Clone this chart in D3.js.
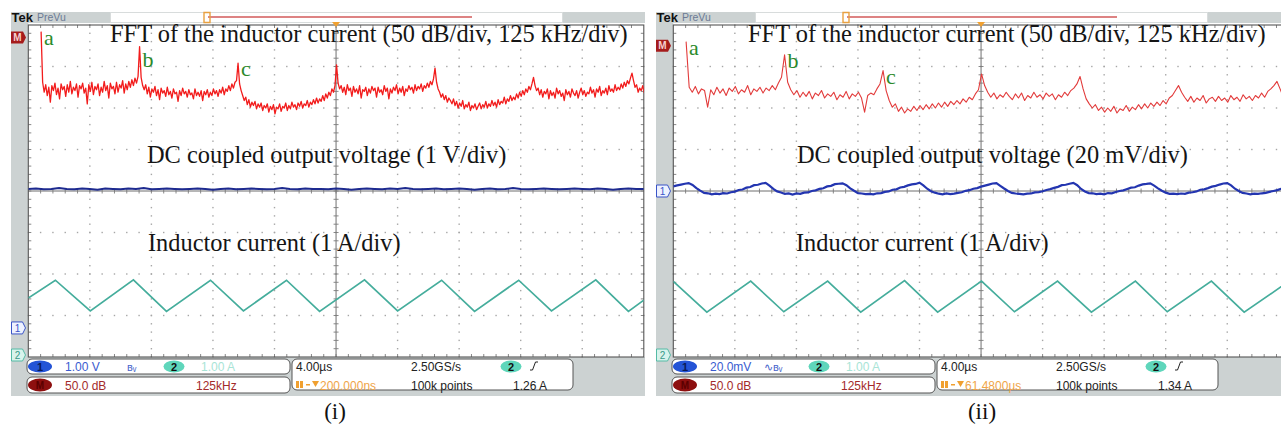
<!DOCTYPE html>
<html><head><meta charset="utf-8">
<script src="https://cdn.jsdelivr.net/npm/d3@7/dist/d3.min.js"></script>
<style>html,body{margin:0;padding:0;background:#fff;overflow:hidden}svg{display:block}</style>
</head><body>
<svg id="chart" width="1281" height="427"></svg>
<script>
// ---------- data ----------
// FFT magnitude of the inductor current (dB), starting at DC
// case (i): one sample every 3.125 kHz
const fftBinA = 3.125;
const fftMagA = [7,
 -54,-66,-57,-70,-60,-78,-58,-64,-55,-69,-61,-74,-56,-63,-59,-71,-57,-66,-53,-68,
 -60,-64,-56,-72,-58,-62,-55,-67,-61,-80,-57,-65,-54,-69,-59,-63,-56,-70,-60,-66,
 -53,-64,-58,-73,-55,-62,-59,-68,-54,-66,-57,-61,-52,-67,-56,-63,-53,-60,-51,-58,
 -49,-55,-47,
 -11,
 -48,-58,-63,-57,-68,-60,-72,-62,-66,-59,-70,-63,-75,-61,-67,-64,-71,-60,-69,-65,
 -73,-62,-68,-66,-77,-64,-70,-61,-68,-65,-72,-63,-69,-67,-74,-62,-70,-66,-71,-64,
 -76,-65,-69,-63,-72,-66,-70,-62,-68,-64,-71,-63,-67,-60,-69,-62,-65,-58,-64,-56,
 -61,-54,-52,
 -31,
 -56,-64,-70,-76,-72,-81,-75,-84,-78,-82,-77,-86,-80,-84,-79,-88,-82,-85,-80,-90,
 -83,-87,-81,-92,-84,-86,-80,-89,-83,-85,-79,-88,-82,-86,-78,-84,-81,-87,-79,-83,
 -77,-85,-80,-82,-76,-84,-78,-81,-75,-80,-73,-79,-74,-77,-70,-76,-68,-73,-66,-70,
 -62,-66,-58,
 -33,
 -55,-62,-58,-66,-60,-69,-57,-64,-61,-71,-59,-66,-62,-68,-58,-73,-63,-65,-60,-70,
 -62,-67,-59,-64,-61,-72,-60,-66,-63,-69,-58,-65,-61,-74,-62,-67,-60,-64,-57,-68,
 -61,-66,-59,-70,-62,-65,-58,-63,-60,-67,-57,-64,-59,-62,-56,-65,-58,-61,-55,-60,
 -53,-57,-50,
 -37,
 -54,-62,-66,-72,-68,-75,-70,-78,-73,-76,-80,-74,-82,-77,-85,-79,-83,-76,-86,-81,
 -84,-78,-88,-82,-85,-80,-87,-83,-79,-86,-81,-84,-77,-85,-80,-83,-76,-82,-78,-84,
 -75,-81,-77,-79,-72,-80,-74,-77,-70,-76,-72,-75,-68,-73,-66,-71,-64,-69,-62,-66,
 -59,-63,-56,
 -48,
 -58,-64,-61,-69,-63,-72,-65,-68,-62,-74,-64,-70,-66,-73,-61,-68,-64,-71,-67,-76,
 -63,-69,-65,-72,-62,-67,-70,-64,-73,-66,-61,-69,-64,-71,-66,-68,-60,-67,-63,-72,
 -62,-66,-59,-70,-64,-67,-61,-69,-58,-65,-62,-66,-57,-64,-60,-63,-56,-61,-54,-59,
 -52,-56,-49,
 -43,
 -52,-60,-57,-66,-61,-64,-58,-67];
// case (ii): one sample every 6.25 kHz
const fftBinB = 6.25;
const fftMagB = [-5,
 -60,-66,-59,-68,-62,-64,-84,-63,-69,-60,-67,-62,-70,-61,-65,-59,-68,-63,-66,-58,-69,-62,-65,-60,-67,-61,-64,-58,-63,-55,-48,
 -21,
 -54,-63,-69,-64,-72,-66,-71,-65,-74,-67,-70,-64,-73,-68,-71,-66,-75,-69,-72,-65,-74,-68,-71,-66,-73,-90,-70,-67,-69,-62,-56,
 -40,
 -64,-76,-84,-80,-89,-84,-91,-86,-89,-83,-88,-82,-87,-81,-86,-80,-85,-79,-84,-78,-83,-77,-81,-76,-80,-74,-78,-72,-75,-68,-63,
 -44,
 -58,-66,-72,-67,-74,-69,-72,-66,-71,-75,-68,-73,-67,-76,-70,-73,-66,-72,-69,-74,-67,-71,-68,-75,-69,-72,-66,-70,-64,-61,-56,
 -47,
 -62,-74,-80,-85,-81,-88,-84,-90,-85,-89,-83,-91,-86,-88,-82,-89,-84,-87,-81,-86,-80,-85,-79,-83,-78,-82,-76,-80,-73,-70,-64,
 -58,
 -66,-72,-77,-71,-78,-73,-76,-70,-79,-74,-72,-77,-71,-76,-73,-78,-70,-75,-72,-77,-69,-74,-71,-76,-70,-73,-67,-72,-65,-62,-58,
 -53,
 -62,-71,-66,-73];
// labelled spectral lines
const harmonicNames = ["a", "b", "c"];
const harmonicKHz = [0, 200, 400];

// output voltage, case (i): volts, one sample every 0.5 us
const voutStepA = 0.5;
const voutA = [
 3.35,3.36,3.34,3.35,3.37,3.35,3.34,3.36,3.35,3.33,
 3.36,3.35,3.34,3.36,3.35,3.37,3.34,3.35,3.36,3.35,
 3.34,3.35,3.36,3.35,3.33,3.35,3.36,3.34,3.35,3.36,
 3.35,3.34,3.35,3.37,3.35,3.34,3.36,3.35,3.35,3.34,
 3.36,3.35,3.33,3.35,3.36,3.35,3.34,3.36,3.35,3.37,
 3.35,3.34,3.35,3.36,3.34,3.35,3.36,3.35,3.33,3.35,
 3.36,3.34,3.35,3.37,3.35,3.34,3.35,3.36,3.35,3.34,
 3.35,3.36,3.35,3.34,3.36,3.35,3.33,3.35,3.36,3.35,
 3.35];
// output voltage ripple, case (ii): millivolts (AC), one sample every 0.25 us
const voutStepB = 0.25;
const voutB = [
 2.2,2.7,3.1,3.5,
 3.8,2.9,1.4,0.2,-0.9,-1.1,-1.6,-1.3,-1.5,-1.0,-1.2,-0.6,-0.3,0.5,0.7,1.6,1.9,2.8,3.0,3.6,
 3.9,2.6,1.0,-0.2,-0.7,-1.4,-1.2,-1.7,-1.2,-1.4,-0.8,-0.7,0.0,0.3,1.0,1.3,2.2,2.5,3.3,3.5,
 3.7,2.8,1.3,0.1,-1.0,-1.2,-1.5,-1.4,-1.6,-1.1,-1.0,-0.4,-0.2,0.6,0.8,1.7,2.0,2.7,3.2,3.4,
 4.0,2.7,1.1,-0.1,-0.8,-1.3,-1.6,-1.2,-1.5,-1.3,-0.9,-0.6,0.1,0.4,1.1,1.4,2.1,2.6,3.1,3.6,
 3.8,2.5,1.2,0.0,-0.9,-1.2,-1.4,-1.6,-1.3,-1.2,-0.7,-0.5,-0.1,0.5,0.9,1.5,2.0,2.8,3.0,3.5,
 3.9,2.8,1.0,-0.2,-1.0,-1.1,-1.5,-1.3,-1.6,-1.0,-1.1,-0.5,0.0,0.3,1.0,1.6,1.8,2.6,3.2,3.4,
 3.7,2.6,1.3,0.1,-0.8,-1.4,-1.3,-1.5,-1.2,-1.4,-0.8,-0.6,-0.2,0.6,0.8,1.4,2.1,2.5,3.1,3.6,
 3.8,2.7,1.1,0.0,-0.9,-1.2,-1.6,-1.3,-1.4,-1.1,-0.9,-0.4,0.0,0.4,1.0,1.5,1.9];

// inductor current turning points: time (us) and current (A)
const iTimesA = [0,1.76,4.03,6.83,8.98,11.84,13.98,16.78,18.93,21.85,24.0,26.86,29.0,31.87,34.0,36.88,39.0,40];
const iAmpsA  = [1.42,1.85,1.11,1.86,1.10,1.85,1.11,1.85,1.10,1.86,1.11,1.85,1.10,1.85,1.11,1.86,1.10,1.37];
const iTimesB = [0,2.18,5.03,7.18,10.03,12.18,15.03,17.18,20.03,22.17,24.97,27.17,30.03,32.1,34.97,37.1,40];
const iAmpsB  = [1.82,1.08,1.83,1.09,1.83,1.08,1.84,1.08,1.83,1.09,1.83,1.08,1.83,1.09,1.83,1.08,1.82];

// annotations and readouts
const fftTitles = ["FFT of the inductor current (50 dB/div, 125 kHz/div)", "FFT of the inductor current (50 dB/div, 125 kHz/div)"];
const voutTitles = ["DC coupled output voltage (1 V/div)", "DC coupled output voltage (20 mV/div)"];
const iTitles = ["Inductor current (1 A/div)", "Inductor current (1 A/div)"];
const captions = ["(i)", "(ii)"];
const ch1Readout = ["1.00 V", "20.0mV"];
const ch2Readout = ["1.00 A", "1.00 A"];
const mathReadout = ["50.0 dB", "50.0 dB"];
const mathSpan = ["125kHz", "125kHz"];
const timeBase = ["4.00\u00b5s", "4.00\u00b5s"];
const sampleRate = ["2.50GS/s", "2.50GS/s"];
const recordLength = ["100k points", "100k points"];
const trigLevel = ["1.26 A", "1.34 A"];
const trigDelay = ["200.000ns", "61.4800\u00b5s"];
// channel scales and positions (divisions from centre)
const ch1PerDiv = [1, 20];
const ch1PosDiv = [-3.3, 0];
const ch2PerDiv = [1, 1];
const ch2PosDiv = [-4, -4];
const mathPerDiv = [50, 50];
const mathPosDiv = [3.7, 3.7];
const mathRefDb = [0, -10];

// ---------- drawing ----------
const svg = d3.select("#chart");
const SERIF = "'Liberation Serif','Times New Roman',serif";
const SANS = "'Liberation Sans',Arial,sans-serif";
const DIV_W = 61.55, DIV_H = 41.5, GRID_TOP = 25;
const GREY = "#ccd2d2";
const TITLE_BASE = 42;

const panels = [
  {frameX: 11, recStart: 197, titleX: 110, voutX: 147, iX: 148, capX: 335},
  {frameX: 656, recStart: 191, titleX: 748, voutX: 797, iX: 796, capX: 982}
];

function chScale(perDiv, posDiv, y0, y1) {
  return d3.scaleLinear().domain([(-4 - posDiv) * perDiv, (4 - posDiv) * perDiv]).range([y1, y0]);
}

panels.forEach((p, k) => {
  const f = p.frameX;
  const gx0 = f + 17.3, gx1 = gx0 + 10 * DIV_W;
  const gy0 = GRID_TOP, gy1 = gy0 + 8 * DIV_H;
  const gxc = (gx0 + gx1) / 2, gyc = (gy0 + gy1) / 2;
  const g = svg.append("g");

  // instrument frame
  g.append("rect").attr("x", f).attr("y", 12).attr("width", 99).attr("height", 11).attr("fill", GREY);
  g.append("rect").attr("x", f + 99.5).attr("y", 12.5).attr("width", 452).attr("height", 10).attr("fill", "#fff").attr("stroke", "#d8dcdc");
  g.append("rect").attr("x", f + 552).attr("y", 12).attr("width", 82).attr("height", 11).attr("fill", GREY);
  g.append("rect").attr("x", f).attr("y", 23).attr("width", gx0 - f).attr("height", gy1 - 23).attr("fill", GREY);
  g.append("rect").attr("x", f).attr("y", gy1).attr("width", 634).attr("height", 396 - gy1).attr("fill", GREY);
  g.append("text").attr("x", f + 0.5).attr("y", 21.5).attr("font-family", SANS).attr("font-weight", "bold")
    .attr("font-size", 13).attr("fill", "#111").text("Tek");
  g.append("text").attr("x", f + 26).attr("y", 21).attr("font-family", SANS).attr("font-size", 10.5)
    .attr("fill", "#6b7a95").text("PreVu");
  // record view indicator
  g.append("line").attr("x1", f + p.recStart).attr("x2", f + 461).attr("y1", 17).attr("y2", 17)
    .attr("stroke", "#d25a5a").attr("stroke-width", 1.6);
  g.append("path").attr("d", `M${f + p.recStart - 4},12.5 h6 v10 h-6 z`).attr("fill", "none")
    .attr("stroke", "#e8a040").attr("stroke-width", 1.4);

  // graticule
  const gr = g.append("g");
  const dots = [];
  for (let i = 1; i < 10; i++) if (i !== 5) for (let m = 0; m <= 40; m++) dots.push([gx0 + i * DIV_W, gy0 + m * DIV_H / 5]);
  for (let j = 1; j < 8; j++) if (j !== 4) for (let m = 0; m <= 50; m++) dots.push([gx0 + m * DIV_W / 5, gy0 + j * DIV_H]);
  gr.selectAll("rect.dot").data(dots).join("rect").attr("class", "dot")
    .attr("x", d => d[0] - 0.7).attr("y", d => d[1] - 0.7).attr("width", 1.4).attr("height", 1.4).attr("fill", "#a6a6a6");
  gr.append("line").attr("x1", gx0).attr("x2", gx1).attr("y1", gyc).attr("y2", gyc).attr("stroke", "#6f6f6f");
  gr.append("line").attr("x1", gxc).attr("x2", gxc).attr("y1", gy0).attr("y2", gy1).attr("stroke", "#6f6f6f");
  const ticks = [];
  for (let m = 1; m < 50; m++) {
    const x = gx0 + m * DIV_W / 5;
    ticks.push([x, gyc - 2.5, x, gyc + 2.5], [x, gy0, x, gy0 + 3], [x, gy1 - 3, x, gy1]);
  }
  for (let m = 1; m < 40; m++) {
    const y = gy0 + m * DIV_H / 5;
    ticks.push([gxc - 2.5, y, gxc + 2.5, y], [gx0, y, gx0 + 3, y], [gx1 - 3, y, gx1, y]);
  }
  gr.selectAll("line.tk").data(ticks).join("line").attr("class", "tk")
    .attr("x1", d => d[0]).attr("y1", d => d[1]).attr("x2", d => d[2]).attr("y2", d => d[3])
    .attr("stroke", "#7a7a7a").attr("stroke-width", 0.9);
  gr.append("rect").attr("x", gx0).attr("y", gy0).attr("width", gx1 - gx0).attr("height", gy1 - gy0)
    .attr("fill", "none").attr("stroke", "#555").attr("stroke-width", 1.1);

  // trigger position marker
  g.append("path").attr("d", `M${gxc - 4},${gy0 - 3} h8 l-4,5 z`).attr("fill", "#f0a030");

  // scales
  const xT = d3.scaleLinear().domain([0, 40]).range([gx0, gx1]);
  const xF = d3.scaleLinear().domain([-26, 1224]).range([gx0, gx1]);
  const yF = chScale(mathPerDiv[k], mathPosDiv[k], gy0, gy1);
  const yV = chScale(ch1PerDiv[k], ch1PosDiv[k], gy0, gy1);
  const yI = chScale(ch2PerDiv[k], ch2PosDiv[k], gy0, gy1);

  const clipId = "clip" + k;
  svg.append("clipPath").attr("id", clipId).append("rect")
    .attr("x", gx0).attr("y", gy0).attr("width", gx1 - gx0).attr("height", gy1 - gy0);
  const tr = g.append("g").attr("clip-path", `url(#${clipId})`);

  // inductor current
  const iT = k === 0 ? iTimesA : iTimesB, iA = k === 0 ? iAmpsA : iAmpsB;
  tr.append("path").datum(iT.map((t, n) => [t, iA[n]]))
    .attr("d", d3.line().x(d => xT(d[0])).y(d => yI(d[1])))
    .attr("fill", "none").attr("stroke", "#45ad9c").attr("stroke-width", 1.7);

  // output voltage
  const vData = k === 0 ? voutA : voutB, vStep = k === 0 ? voutStepA : voutStepB;
  tr.append("path").datum(vData)
    .attr("d", d3.line().x((d, n) => xT(n * vStep)).y(d => yV(d)))
    .attr("fill", "none").attr("stroke", k === 0 ? "#1d2a8f" : "#2335b0").attr("stroke-width", k === 0 ? 2 : 2.2);

  // FFT
  const mag = k === 0 ? fftMagA : fftMagB, bin = k === 0 ? fftBinA : fftBinB;
  tr.append("path").datum(mag)
    .attr("d", d3.line().x((d, n) => xF(n * bin)).y(d => yF(d)))
    .attr("fill", "none").attr("stroke", k === 0 ? "#f21c1c" : "#e23b3b")
    .attr("stroke-width", k === 0 ? 1.3 : 1.1).attr("stroke-linejoin", "round");

  // harmonic labels, kept clear of the title line
  const labelSize = 22;
  harmonicNames.forEach((nm, h) => {
    const idx = Math.round(harmonicKHz[h] / bin);
    const lx = xF(harmonicKHz[h]) + 3;
    let ly = yF(mag[idx]) + 13;
    if (lx > p.titleX - 10) ly = Math.max(ly, TITLE_BASE + 25);
    g.append("text").attr("x", lx).attr("y", ly)
      .attr("font-family", SERIF).attr("font-size", labelSize).attr("fill", "#2b8a2b").text(nm);
  });

  // trace titles
  g.append("text").attr("x", p.titleX).attr("y", TITLE_BASE).attr("font-family", SERIF).attr("font-size", 24.4)
    .attr("fill", "#151515").text(fftTitles[k]);
  g.append("text").attr("x", p.voutX).attr("y", 162.5).attr("font-family", SERIF).attr("font-size", 24.4)
    .attr("fill", "#151515").text(voutTitles[k]);
  g.append("text").attr("x", p.iX).attr("y", 251).attr("font-family", SERIF).attr("font-size", 24.4)
    .attr("fill", "#151515").text(iTitles[k]);

  // channel markers at the left edge
  const mY = yF(mathRefDb[k]);
  g.append("path").attr("d", `M${f},${mY - 6} h12 l3,6 l-3,6 h-12 z`).attr("fill", "#a51c1c");
  g.append("text").attr("x", f + 6.5).attr("y", mY + 3.5).attr("text-anchor", "middle").attr("font-family", SANS)
    .attr("font-weight", "bold").attr("font-size", 10).attr("fill", "#f6d0d0").text("M");
  const c1Y = yV(0);
  g.append("path").attr("d", `M${f + 0.5},${c1Y - 6} h11 l3,6 l-3,6 h-11 z`).attr("fill", "#eef2ff")
    .attr("stroke", "#3a55c8").attr("stroke-width", 1);
  g.append("text").attr("x", f + 6.5).attr("y", c1Y + 4).attr("text-anchor", "middle").attr("font-family", SANS)
    .attr("font-size", 10).attr("fill", "#3a55c8").text("1");
  const c2Y = yI(0) - 2;
  g.append("path").attr("d", `M${f + 0.5},${c2Y - 6} h11 l3,6 l-3,6 h-11 z`).attr("fill", "#d8f3ec")
    .attr("stroke", "#55bba6").attr("stroke-width", 1);
  g.append("text").attr("x", f + 6.5).attr("y", c2Y + 4).attr("text-anchor", "middle").attr("font-family", SANS)
    .attr("font-size", 10).attr("fill", "#3a9a88").text("2");

  // readout boxes
  const sb = g.append("g").attr("font-family", SANS).attr("font-size", 12);
  sb.append("rect").attr("x", f + 16).attr("y", 359).attr("width", 263).attr("height", 15).attr("rx", 5)
    .attr("fill", "#fff").attr("stroke", "#555");
  sb.append("rect").attr("x", f + 16).attr("y", 377).attr("width", 263).attr("height", 16).attr("rx", 5)
    .attr("fill", "#fff").attr("stroke", "#555");
  sb.append("rect").attr("x", f + 281).attr("y", 359).attr("width", 281).attr("height", 31).attr("rx", 5)
    .attr("fill", "#fff").attr("stroke", "#555");
  sb.append("ellipse").attr("cx", f + 29).attr("cy", 366.5).attr("rx", 12).attr("ry", 6).attr("fill", "#2454d6");
  sb.append("text").attr("x", f + 29).attr("y", 370.5).attr("text-anchor", "middle").attr("font-weight", "bold")
    .attr("font-size", 11).attr("fill", "#0b1a55").text("1");
  sb.append("text").attr("x", f + 54).attr("y", 371).attr("fill", "#3a5bd0").text(ch1Readout[k]);
  sb.append("text").attr("x", f + (k === 0 ? 116 : 108)).attr("y", 370.5).attr("font-size", 11).attr("fill", "#4a66cc")
    .text(k === 0 ? "\u0299\u1d65" : "\u223f\u0299\u1d65");
  sb.append("ellipse").attr("cx", f + 163).attr("cy", 366.5).attr("rx", 10.5).attr("ry", 6).attr("fill", "#5fd6bb");
  sb.append("text").attr("x", f + 163).attr("y", 370.5).attr("text-anchor", "middle").attr("font-weight", "bold")
    .attr("font-size", 11).attr("fill", "#111").text("2");
  sb.append("text").attr("x", f + 190).attr("y", 371).attr("fill", "#a8e4d6").text(ch2Readout[k]);
  sb.append("ellipse").attr("cx", f + 29).attr("cy", 385).attr("rx", 12).attr("ry", 6.5).attr("fill", "#8d0f0f");
  sb.append("text").attr("x", f + 29).attr("y", 389).attr("text-anchor", "middle").attr("font-weight", "bold")
    .attr("font-size", 10).attr("fill", "#5a0000").text("M");
  sb.append("text").attr("x", f + 54).attr("y", 389.5).attr("fill", "#a32a2a").text(mathReadout[k]);
  sb.append("text").attr("x", f + 185).attr("y", 389.5).attr("fill", "#a32a2a").text(mathSpan[k]);
  sb.append("text").attr("x", f + 285).attr("y", 371).attr("fill", "#222").text(timeBase[k]);
  sb.append("text").attr("x", f + 400).attr("y", 371).attr("fill", "#222").text(sampleRate[k]);
  sb.append("ellipse").attr("cx", f + 500).attr("cy", 366.5).attr("rx", 10.5).attr("ry", 6).attr("fill", "#5fd6bb");
  sb.append("text").attr("x", f + 500).attr("y", 370.5).attr("text-anchor", "middle").attr("font-weight", "bold")
    .attr("font-size", 11).attr("fill", "#111").text("2");
  sb.append("path").attr("d", `M${f + 519},370 h2.5 l3,-8 h2.5`).attr("fill", "none").attr("stroke", "#222").attr("stroke-width", 1);
  sb.append("rect").attr("x", f + 285).attr("y", 381).attr("width", 3).attr("height", 7).attr("fill", "#f0a030");
  sb.append("rect").attr("x", f + 289).attr("y", 381).attr("width", 3).attr("height", 7).attr("fill", "#f0a030");
  sb.append("rect").attr("x", f + 295).attr("y", 384).attr("width", 4).attr("height", 1.5).attr("fill", "#f0a030");
  sb.append("path").attr("d", `M${f + 301},381 h7 l-3.5,6 z`).attr("fill", "#f0a030");
  sb.append("text").attr("x", f + 309).attr("y", 389.5).attr("fill", "#f0a548").text(trigDelay[k]);
  sb.append("text").attr("x", f + 400).attr("y", 389.5).attr("fill", "#222").text(recordLength[k]);
  sb.append("text").attr("x", f + 502).attr("y", 389.5).attr("fill", "#222").text(trigLevel[k]);

  // caption
  g.append("text").attr("x", p.capX).attr("y", 419).attr("text-anchor", "middle").attr("font-family", SERIF)
    .attr("font-size", 23).attr("fill", "#111").text(captions[k]);
});
</script>
</body></html>
